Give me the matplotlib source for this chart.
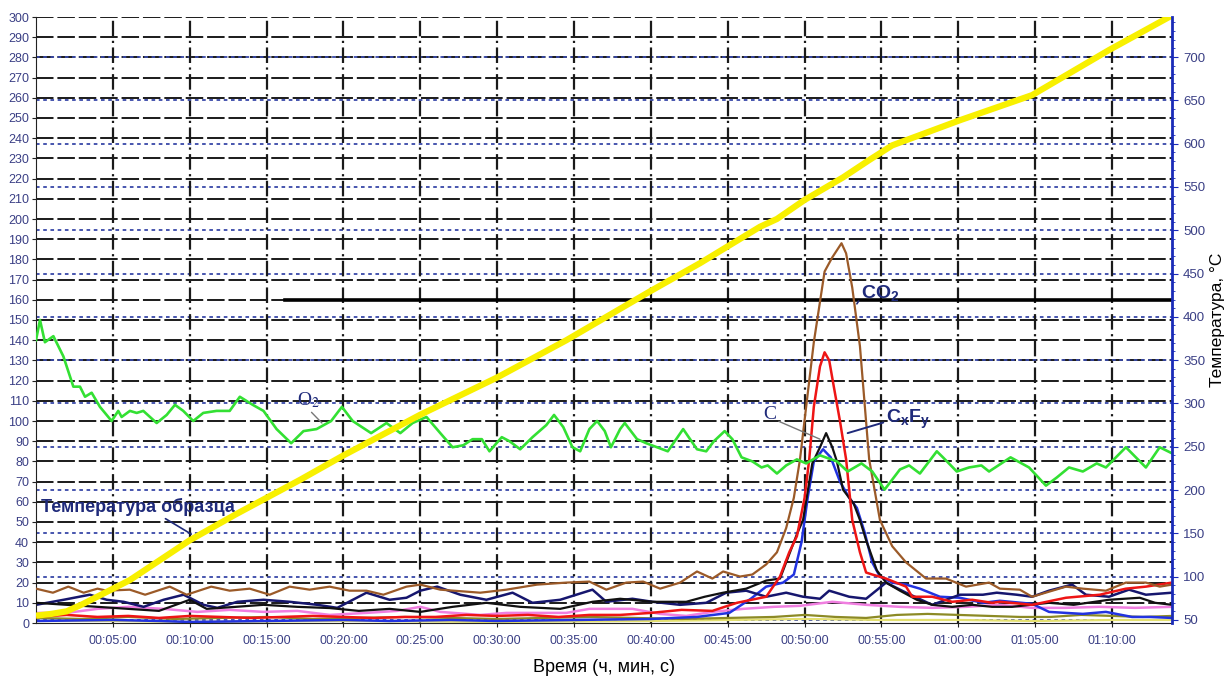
"""
Gas evolution vs time with sample temperature (twin axis).
"""
import matplotlib
matplotlib.use("Agg")
import matplotlib.pyplot as plt
from matplotlib.ticker import MultipleLocator, FuncFormatter

plt.rcParams['font.family'] = ['Liberation Sans', 'DejaVu Sans']
plt.rcParams['mathtext.fontset'] = 'custom'
plt.rcParams['mathtext.rm'] = 'Liberation Sans'
plt.rcParams['mathtext.bf'] = 'Liberation Sans:bold'

# ---- data (minutes, left axis units) ----
o2_t = [0.0, 0.26, 0.58, 1.13, 1.78, 2.43, 2.86, 3.19, 3.62, 4.16, 4.92, 5.35, 5.57, 6.11, 6.55,
        6.98, 7.85, 8.5, 9.04, 9.58, 10.23, 10.88, 11.75, 12.6, 13.26, 14.1, 14.8, 15.65, 16.6,
        17.4, 18.25, 19.2, 19.9, 20.6, 21.8, 22.8, 23.7, 24.5, 25.4, 26.3, 27.1, 27.8, 28.4,
        29.0, 29.5, 30.3, 30.8, 31.5, 32.3, 33.2, 33.7, 34.3, 34.9, 35.4, 36.0, 36.5, 37.0,
        37.4, 38.0, 38.3, 39.1, 39.7, 40.4, 41.1, 42.1, 43.0, 43.6, 44.1, 44.8, 45.3, 45.9,
        46.6, 47.2, 47.6, 48.2, 48.8, 49.5, 50.1, 51.0, 52.1, 52.8, 53.7, 54.4, 55.2, 56.2,
        56.8, 57.5, 58.6, 59.0, 59.9, 60.7, 61.5, 62.0, 63.4, 64.6, 65.7, 66.4, 67.2, 68.1,
        69.0, 69.6, 70.9, 72.2, 73.1, 73.9]
o2_v = [140, 150, 139, 142, 132, 117, 117, 112, 114, 107, 100, 105, 102, 105, 104,
        105, 99, 103, 108, 105, 100, 104, 105, 105, 112, 108, 105, 96, 89,
        95, 96, 100, 107, 100, 94, 99, 94, 99, 102, 94, 87, 88, 91,
        91, 85, 92, 90, 86, 92, 98, 103, 97, 87, 85, 96, 100, 95,
        87, 96, 99, 91, 89, 87, 85, 96, 86, 85, 90, 95, 91, 82,
        80, 77, 78, 74, 78, 81, 79, 83, 80, 75, 79, 75, 66, 76,
        78, 74, 85, 82, 75, 77, 78, 75, 82, 77, 68, 72, 77, 75,
        79, 77, 87, 77, 87, 84]

co2_t = [0, 1.1, 2.1, 3.1, 4.0, 4.6, 6.1, 7.1, 8.7, 9.8, 11.4, 12.6, 13.9, 15.2, 16.5, 17.8,
         19.1, 20.4, 21.5, 22.6, 24.1, 25.0, 26.3, 28.9, 30.6, 32.6, 34.5, 36.0, 37.1, 38.4,
         39.5, 40.6, 41.9, 43.0, 44.0, 44.7, 45.8, 46.6, 47.5, 48.2, 48.8, 49.3, 49.7, 50.1,
         50.6, 51.3, 51.8, 52.4, 52.7, 53.1, 53.6, 53.9, 54.2, 54.9, 55.7, 56.6, 57.9, 59.2,
         60.5, 62.0, 62.7, 64.0, 64.8, 67.0, 68.1, 69.6, 70.9, 72.2, 73.1, 73.9]
co2_v = [17, 15, 18, 15, 17, 16, 16.5, 14, 18, 14, 18, 16, 17, 14, 18, 16.5,
         18, 16, 16, 14, 18, 19, 16.5, 15, 16.5, 19, 20, 20.5, 16.5, 20,
         20.5, 17, 20, 25.5, 22, 25.5, 23, 24, 29, 35, 47, 62, 81, 107,
         139, 174, 181, 188, 183, 166, 137, 109, 81, 51, 38, 30, 22, 22,
         18, 20, 17, 16.5, 13, 18, 17, 16, 20, 20, 18, 19]

red_t = [0, 2, 4, 6, 8, 10, 12, 14, 16, 18, 20, 22, 24, 26, 28, 30, 32, 34, 36, 38, 40, 42,
         44, 45.6, 47.5, 48.4, 49.0, 49.5, 50.0, 50.3, 50.6, 51.0, 51.3, 51.6, 51.9, 52.3,
         52.7, 53.1, 53.6, 54.0, 54.4, 55.3, 56.6, 57.0, 58.3, 59.6, 60.9, 62.2, 62.7, 64.8,
         67.0, 69.2, 70.9, 72.2, 73.9]
red_v = [3, 4, 3, 3.5, 2.5, 3.5, 3, 2.5, 3, 3.5, 3, 2.5, 3, 3, 4, 3.5, 4, 3, 4, 4, 5, 6.5,
         6, 10, 13, 23, 35, 43, 62, 81, 107, 127, 134, 130, 117, 100,
         81, 51, 35, 25, 24, 22, 18, 13, 13, 10.5, 11.5, 10, 10.5, 9,
         12.5, 14, 17, 18, 20]

black_t = [0, 2, 4, 6, 8, 10, 11.1, 13, 14.8, 17, 19.1, 21, 23, 25, 27.1, 29.3, 31.5, 34.1,
           36.2, 38, 40.1, 42.3, 43.5, 44.7, 46.2, 47.5, 48.4, 48.8, 49.5, 49.9, 50.5, 51.0,
           51.4, 51.8, 52.1, 52.5, 53.2, 53.6, 54.0, 54.7, 55.3, 56.2, 57.3, 58.3, 59.6, 60.9,
           62.2, 63.5, 65.9, 67.5, 69.8, 71.8, 72.8, 73.9]
black_v = [10, 9, 8, 7, 6, 11.5, 7, 8, 9, 8, 7.4, 6, 7, 5.5, 8, 10, 8, 7,
           10.5, 12, 10.5, 10.5, 13, 15, 17, 21, 22, 30, 44, 51, 79, 87,
           94, 87, 80, 66, 59, 51, 41, 26, 20, 16, 11.5, 9, 8, 9,
           8, 8, 10, 9, 11.5, 12.5, 10, 9]

navy_t = [0, 1.8, 3.5, 4.6, 5.7, 7.0, 8.3, 9.6, 10.9, 11.8, 13.1, 14.8, 16.5, 18.3, 19.6, 21.5,
          23.0, 24.1, 25.0, 26.1, 27.6, 29.3, 31.0, 32.3, 34.1, 36.2, 37.1, 38.8, 40.1, 41.9,
          43.6, 44.9, 46.2, 47.5, 48.8, 49.9, 51.0, 51.6, 52.9, 54.0, 55.3, 56.6, 58.3, 60.1,
          61.6, 62.5, 63.8, 64.8, 65.9, 67.4, 68.3, 69.8, 71.1, 72.2, 73.9]
navy_v = [9, 11.5, 14, 11.5, 10.5, 8, 11.5, 14, 9, 7.5, 10.5, 11.5, 10.5, 9, 7.5, 15,
          11.5, 12.5, 16, 18, 14, 11.5, 15, 10, 11.5, 16.5, 10.5, 12, 10.5, 9,
          10, 15, 16, 13, 15, 13, 12, 16, 13, 12, 20, 15, 9, 14,
          14, 15, 14, 13, 16, 19, 14, 13, 16.5, 14, 15]

blue_t = [0, 5, 8, 10, 15, 20, 23, 27, 30, 35, 40, 43, 45.1, 46.5, 47.5, 48.6, 49.3, 49.8,
          50.2, 50.6, 51.2, 51.7, 52.3, 52.9, 53.4, 53.9, 54.4, 54.9, 55.7, 56.6, 57.5, 58.8,
          60.1, 61.6, 62.7, 64.8, 65.9, 68.1, 69.6, 71.3, 72.5, 73.9]
blue_v = [1, 1.5, 1, 0.5, 1, 1.5, 1, 1.5, 1, 1.5, 2, 3, 5, 12, 18, 20, 24, 40,
          62, 80, 86, 82, 70, 62, 57, 45, 30, 23, 20, 19, 17, 13,
          12.5, 10, 11, 9.5, 5.5, 4.5, 5.5, 3, 3, 2.5]

pink_t = [0, 2, 4, 6, 8.3, 10.5, 12.6, 14.8, 17, 19.1, 21.5, 23.5, 25, 26.3, 28.9, 30.6, 33,
          34.5, 36, 38.8, 40.6, 42.3, 44, 46, 48, 49.7, 51.8, 54, 56.2, 58.3, 60.5, 62.7,
          64.8, 67, 69.2, 71.5, 73.9]
pink_v = [5, 5, 7, 8, 7, 5.5, 6.5, 5.5, 6, 4, 5, 6, 8, 5.5, 4, 5, 5,
          5, 7, 7, 4.5, 3.5, 5.5, 7, 8, 8.5, 10.5, 9, 8, 7.5, 8, 9,
          7.5, 7.5, 8, 7.5, 8]

olive_t = [0, 3, 6, 9, 12, 15, 18, 21, 24, 27, 30, 33, 36, 39, 42, 45, 48, 50, 52, 54, 56,
           58, 60, 62, 64, 66, 68, 70, 72, 73.9]
olive_v = [2.5, 2, 3, 2, 2.5, 3, 2, 2.5, 3, 2.5, 2, 2.5, 3, 2.5, 2, 2.5, 3, 4, 3, 2.5, 4,
           4.5, 4, 3.5, 3, 3, 4, 3.5, 3, 3.5]

pale_t = [0, 5, 10, 20, 30, 40, 45, 50, 55, 60, 65, 70, 73.9]
pale_v = [1, 1, 0.5, 1, 0.5, 1, 1.5, 2, 1.5, 1.5, 1, 1.5, 1.5]

# sample temperature, right axis (deg C)
temp_t = [0, 1, 2, 3, 4, 6.1, 10, 13, 17.2, 20, 25, 30, 34.5, 40, 43.2, 47.1, 48.2, 50,
          52.5, 54.2, 55.7, 60.1, 64.8, 69.8, 73.9]
temp_v = [55, 57, 60, 68, 77, 96, 142, 172, 212, 240, 287, 330, 373, 430, 462, 504, 513, 535,
          561, 581, 598, 627, 656, 708, 748]

x_ticks = list(range(5, 75, 5))
right_ticks = list(range(50, 750, 50))

NAVY = '#1f2a7a'
TICK_COL = '#3a3f85'


def to_left(r, rlim, llim):
    """Map a right-axis value to left-axis units."""
    return llim[0] + (r - rlim[0]) / (rlim[1] - rlim[0]) * (llim[1] - llim[0])


def main():
    fig = plt.figure(figsize=(12.3, 6.83), dpi=100)
    ax = fig.add_axes([36 / 1230, 60 / 683, (1172 - 36) / 1230, (623 - 17) / 683])
    ax2 = ax.twinx()

    llim = (0, 300)
    rlim = (46.5, 746.2)
    ax.set_xlim(0, 73.9)
    ax.set_ylim(*llim)
    ax2.set_ylim(*rlim)

    # grid
    for v in range(10, 301, 10):
        ax.axhline(v, color='#1a1a1a', lw=1.4, ls=(0, (9, 2)), zorder=1)
    for r in right_ticks:
        ax.axhline(to_left(r, rlim, llim), color='#3848a8', lw=1.3, ls=(0, (2, 2)), zorder=1)
    for x in x_ticks:
        ax.axvline(x, color='#1a1a1a', lw=1.6, ls=(0, (7, 2, 1, 2)), zorder=1)
    ax.axhline(160, xmin=16.2 / 73.9, color='black', lw=2.6, zorder=1)

    # gas curves
    ax.plot(pale_t, pale_v, color='#e4e070', lw=1.6, zorder=2)
    ax.plot(olive_t, olive_v, color='#8c8a25', lw=1.6, zorder=2)
    ax.plot(pink_t, pink_v, color='#f07ee0', lw=1.8, zorder=2)
    ax.plot(blue_t, blue_v, color='#2233e0', lw=1.8, zorder=2)
    ax.plot(navy_t, navy_v, color='#16166e', lw=1.8, zorder=2)
    ax.plot(black_t, black_v, color='#111111', lw=1.6, zorder=3)
    ax.plot(red_t, red_v, color='#ee1515', lw=1.8, zorder=3)
    ax.plot(co2_t, co2_v, color='#9b5a28', lw=1.6, zorder=3)
    ax.plot(o2_t, o2_v, color='#33e033', lw=1.9, zorder=4)

    # temperature
    ax2.plot(temp_t, temp_v, color='#f8f000', lw=4.5, solid_capstyle='butt')

    # axes styling
    ax.spines['top'].set_visible(False)
    ax.spines['right'].set_visible(False)
    ax.spines['left'].set_color('#222222')
    ax.spines['bottom'].set_color('#222222')
    ax2.spines['top'].set_visible(False)
    ax2.spines['left'].set_visible(False)
    ax2.spines['bottom'].set_visible(False)
    ax2.spines['right'].set_color('#1a2bb8')
    ax2.spines['right'].set_linewidth(2)

    ax.yaxis.set_major_locator(MultipleLocator(10))
    ax.set_xticks(x_ticks)
    ax.xaxis.set_major_formatter(FuncFormatter(
        lambda m, p: '%02d:%02d:00' % (int(m) // 60, int(m) % 60)))
    ax.tick_params(axis='y', labelsize=9, colors=TICK_COL, length=3, pad=2)
    ax.tick_params(axis='x', labelsize=9, colors=TICK_COL, length=3, pad=6)
    ax.tick_params(axis='both', color='#222222')

    ax2.set_yticks(right_ticks)
    ax2.yaxis.set_minor_locator(MultipleLocator(10))
    ax2.tick_params(axis='y', which='major', labelsize=9.5, colors=TICK_COL, length=4, pad=4)
    ax2.tick_params(axis='y', which='major', color='#1a2bb8')
    ax2.tick_params(axis='y', which='minor', length=2, color='#1a2bb8')

    ax.set_xlabel('Время (ч, мин, с)', fontsize=13, labelpad=8)
    ax2.set_ylabel('Температура, °С', fontsize=12.5, labelpad=3)

    # labels with leader lines
    ax.annotate('Температура образца', xy=(10.1, 44), xytext=(0.3, 55),
                fontsize=13, fontweight='bold', color=NAVY,
                arrowprops=dict(arrowstyle='-', color=NAVY, lw=1.2,
                                shrinkA=0, shrinkB=0, relpos=(0.62, 0)))
    ax.annotate('O$_2$', xy=(18.6, 99), xytext=(17.0, 108),
                fontsize=14, color=NAVY, math_fontfamily='stix', family='Liberation Serif',
                arrowprops=dict(arrowstyle='-', color='#777777', lw=1,
                                shrinkA=0, shrinkB=0, relpos=(0.5, 0)))
    ax.annotate(r'$\mathbf{CO_2}$', xy=(53.4, 158), xytext=(53.7, 161),
                fontsize=14, color=NAVY,
                arrowprops=dict(arrowstyle='-', color=NAVY, lw=1.2,
                                shrinkA=0, shrinkB=0, relpos=(0, 0.3)))
    ax.annotate('C', xy=(51.0, 91), xytext=(47.3, 101),
                fontsize=14, color=NAVY, family='Liberation Serif',
                arrowprops=dict(arrowstyle='-', color='#777777', lw=1,
                                shrinkA=0, shrinkB=0, relpos=(0.9, 0.2)))
    ax.annotate(r'$\mathbf{C_xF_y}$', xy=(52.8, 94), xytext=(55.3, 99),
                fontsize=14, color=NAVY,
                arrowprops=dict(arrowstyle='-', color=NAVY, lw=1.4,
                                shrinkA=0, shrinkB=0, relpos=(0, 0.4)))

    fig.savefig('out.png', dpi=100)


if __name__ == "__main__":
    main()
